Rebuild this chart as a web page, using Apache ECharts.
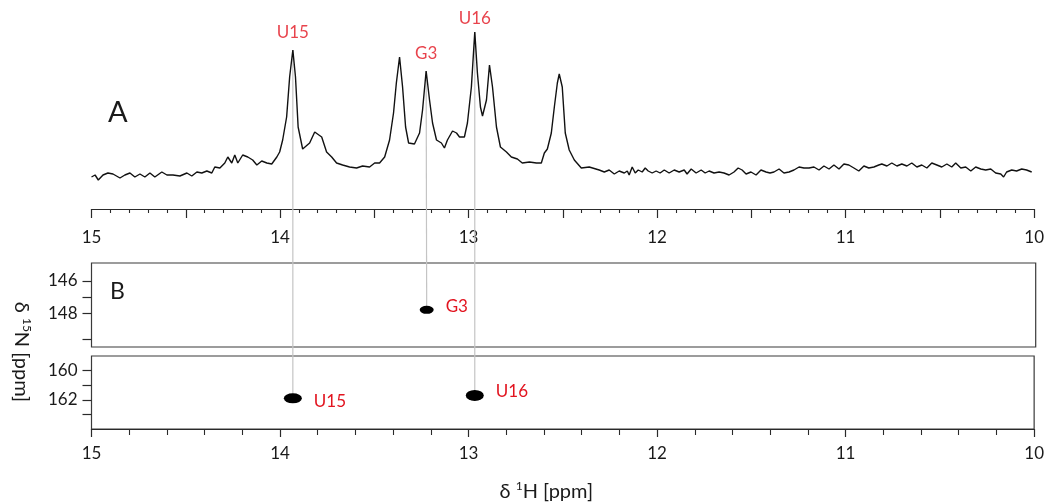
<!DOCTYPE html>
<html>
<head>
<meta charset="utf-8">
<script src="https://cdn.jsdelivr.net/npm/echarts@6/dist/echarts.min.js"></script>
<style>
  html, body { margin: 0; padding: 0; background: #fff; }
  #chart { width: 1047px; height: 503px; }
</style>
</head>
<body>
<div id="chart"></div>
<script>
// 1D imino proton spectrum: chemical shift (ppm) and intensity (arb. units)
const spectrumPpm = [
  15.000, 14.981, 14.964, 14.939, 14.913, 14.886, 14.849, 14.823, 14.796, 14.770,
  14.743, 14.717, 14.690, 14.664, 14.627, 14.600, 14.568, 14.531, 14.494, 14.468,
  14.441, 14.415, 14.388, 14.362, 14.346, 14.319, 14.293, 14.277, 14.256, 14.240,
  14.224, 14.198, 14.171, 14.145, 14.123, 14.097, 14.070, 14.044, 14.017, 14.002,
  13.986, 13.965, 13.949, 13.932, 13.918, 13.904, 13.880, 13.843, 13.816, 13.806,
  13.779, 13.753, 13.726, 13.700, 13.668, 13.631, 13.594, 13.562, 13.525, 13.498,
  13.472, 13.445, 13.419, 13.398, 13.383, 13.366, 13.350, 13.334, 13.318, 13.287,
  13.260, 13.244, 13.225, 13.207, 13.191, 13.170, 13.144, 13.128, 13.112, 13.085,
  13.064, 13.048, 13.022, 13.006, 12.985, 12.967, 12.953, 12.937, 12.926, 12.905,
  12.889, 12.873, 12.852, 12.831, 12.799, 12.773, 12.741, 12.715, 12.677, 12.640,
  12.614, 12.598, 12.582, 12.561, 12.545, 12.529, 12.519, 12.503, 12.487, 12.466,
  12.439, 12.402, 12.360, 12.307, 12.280, 12.254, 12.227, 12.201, 12.174, 12.158,
  12.148, 12.132, 12.116, 12.100, 12.079, 12.063, 12.047, 12.026, 12.005, 11.984,
  11.962, 11.936, 11.909, 11.883, 11.856, 11.841, 11.819, 11.793, 11.766, 11.745,
  11.724, 11.698, 11.671, 11.645, 11.618, 11.592, 11.570, 11.549, 11.528, 11.502,
  11.475, 11.449, 11.422, 11.401, 11.380, 11.353, 11.327, 11.300, 11.274, 11.247,
  11.221, 11.194, 11.168, 11.141, 11.115, 11.088, 11.062, 11.035, 11.009, 10.983,
  10.956, 10.930, 10.903, 10.877, 10.850, 10.824, 10.808, 10.781, 10.755, 10.728,
  10.702, 10.675, 10.649, 10.622, 10.596, 10.569, 10.543, 10.516, 10.490, 10.463,
  10.437, 10.416, 10.389, 10.363, 10.336, 10.310, 10.283, 10.257, 10.230, 10.204,
  10.177, 10.162, 10.146, 10.119, 10.093, 10.066, 10.040, 10.013
];
const spectrumIntensity = [
   8, 10,  5, 10, 12, 11,  7, 10, 12,  8,
  11,  8, 12,  8, 13, 10, 10,  9, 12,  9,
  13, 12, 14, 12, 18, 17, 22, 28, 22, 30,
  22, 30, 28, 25, 20, 24, 22, 21, 28, 33,
  45, 68,108,135,108, 58, 36, 42, 53, 52,
  48, 33, 28, 22, 20, 18, 17, 19, 18, 22,
  22, 28, 45, 72,102,128, 98, 58, 42, 41,
  52, 75,114, 85, 62, 45, 42, 37, 45, 54,
  52, 48, 48, 62, 98,153,112, 78, 69, 85,
 120, 98, 58, 38, 33, 28, 26, 22, 23, 22,
  22, 32, 36, 52, 78,102,111, 98, 52, 35,
  25, 17, 18, 15, 13, 15, 11, 14, 12, 14,
  10, 18, 12, 15, 13, 17, 14, 12, 14, 12,
  15, 12, 15, 13, 15, 11, 16, 12, 15, 12,
  14, 12, 13, 12, 10, 13, 17, 15, 11, 13,
  10, 15, 13, 12, 13, 16, 12, 13, 15, 18,
  17, 17, 18, 15, 19, 16, 20, 16, 21, 20,
  17, 14, 19, 17, 18, 20, 21, 19, 22, 19,
  21, 19, 22, 18, 20, 17, 22, 20, 18, 21,
  18, 22, 17, 18, 14, 18, 16, 15, 16, 12,
  11,  8, 13, 15, 14, 16, 15, 13
];

// Assigned imino resonances: 1H shift, peak height in the 1D trace, 15N shift
const assignNames = ['U15', 'G3', 'U16'];
const assignH = [13.932, 13.225, 12.967];
const assignIntensity = [135, 114, 153];
const assignN = [161.9, 147.8, 161.7];

// Axis ticks and labels
const hLabels = [15, 14, 13, 12, 11, 10];
const nLabelsG = [146, 148];
const nTicksG = [146, 147, 148, 149.6];
const nLabelsU = [160, 162];
const nTicksU = [160, 161, 162, 163];

const FONT = 'Lato, "Open Sans", sans-serif';
const RED = '#e2141f';
const INK = '#1a1a1a';

// Axis titles with superscript isotope numbers
const nameRich = {
  n: { fontSize: 20, fontFamily: FONT, color: INK, lineHeight: 22, verticalAlign: 'bottom' },
  s: { fontSize: 12, fontFamily: FONT, color: INK, lineHeight: 22, verticalAlign: 'top' }
};

const spectrumData = spectrumPpm.map((p, i) => [p, spectrumIntensity[i]]);
const peakLabelDistance = { U15: 9, G3: 9, U16: 5 };
const peakLabelData = assignNames.map((n, i) => ({
  name: n,
  value: [assignH[i], assignIntensity[i]],
  label: { distance: peakLabelDistance[n] }
}));

const sizes = { U15: [18, 10], G3: [14, 8], U16: [18, 11] };
const labelOffsets = { U15: [0, 3], G3: [0, -3], U16: [0, -4] };
function crossData(inGuanine) {
  const out = [];
  assignNames.forEach((n, i) => {
    const isG = assignN[i] < 155;
    if (isG === inGuanine) {
      out.push({
        name: n,
        value: [assignH[i], assignN[i]],
        symbolSize: sizes[n],
        label: { offset: labelOffsets[n] }
      });
    }
  });
  return out;
}

const hAxisBase = {
  type: 'value', min: 10, max: 15, inverse: true,
  splitLine: { show: false },
  axisLine: { show: true, onZero: false, lineStyle: { color: '#2a2a2a', width: 1.2 } }
};

const chart = echarts.init(document.getElementById('chart'), null, { renderer: 'canvas' });

const option = {
  animation: false,
  backgroundColor: '#ffffff',
  textStyle: { fontFamily: FONT },
  grid: [
    { left: 91.5, right: 11.3, top: 20, height: 189 },
    { left: 91.5, right: 11.3, top: 263, height: 84, show: true, borderColor: '#3a3a3a', borderWidth: 1.2, backgroundColor: 'transparent' },
    { left: 91.5, right: 11.3, top: 356, height: 81, show: true, borderColor: '#3a3a3a', borderWidth: 1.2, backgroundColor: 'transparent' }
  ],
  xAxis: [
    Object.assign({}, hAxisBase, {
      gridIndex: 0, interval: 0.5, position: 'bottom',
      axisTick: { show: true, length: 9, lineStyle: { color: '#2a2a2a', width: 1.2 } },
      minorTick: { show: true, splitNumber: 5, length: 4, lineStyle: { color: '#2a2a2a', width: 1.1 } },
      axisLabel: { customValues: hLabels, margin: 20, fontSize: 17, color: INK, fontFamily: FONT }
    }),
    Object.assign({}, hAxisBase, { gridIndex: 1, show: false }),
    Object.assign({}, hAxisBase, {
      gridIndex: 2, interval: 1,
      axisTick: { show: true, length: 8, lineStyle: { color: '#2a2a2a', width: 1.2 } },
      minorTick: { show: true, splitNumber: 5, length: 6, lineStyle: { color: '#2a2a2a', width: 1.1 } },
      axisLabel: { customValues: hLabels, margin: 16, fontSize: 17, color: INK, fontFamily: FONT },
      name: '{n|δ }{s|1}{n|H [ppm]}', nameLocation: 'middle', nameGap: 51,
      nameTextStyle: { fontSize: 20, color: INK, fontFamily: FONT, padding: [0, 33, 0, 0], rich: nameRich }
    })
  ],
  yAxis: [
    { gridIndex: 0, type: 'value', min: -24, max: 165, show: false },
    {
      gridIndex: 1, type: 'value', min: 144.9, max: 150.1, inverse: true,
      splitLine: { show: false }, axisLine: { show: false },
      axisTick: { show: true, length: 9, customValues: nTicksG, lineStyle: { color: '#2a2a2a', width: 1.2 } },
      axisLabel: { customValues: nLabelsG, margin: 14, fontSize: 17, color: INK, fontFamily: FONT }
    },
    {
      gridIndex: 2, type: 'value', min: 159, max: 164, inverse: true,
      splitLine: { show: false }, axisLine: { show: false },
      axisTick: { show: true, length: 9, customValues: nTicksU, lineStyle: { color: '#2a2a2a', width: 1.2 } },
      axisLabel: { customValues: nLabelsU, margin: 14, fontSize: 17, color: INK, fontFamily: FONT }
    }
  ],
  series: [
    {
      type: 'line', xAxisIndex: 0, yAxisIndex: 0, z: 3,
      data: spectrumData, showSymbol: false, symbol: 'none',
      lineStyle: { color: '#111111', width: 1.4 }
    },
    {
      type: 'scatter', xAxisIndex: 0, yAxisIndex: 0, z: 4,
      data: peakLabelData, symbolSize: 0, silent: true,
      label: { show: true, position: 'top', formatter: '{b}', color: RED, fontSize: 17, fontFamily: FONT }
    },
    {
      type: 'scatter', xAxisIndex: 1, yAxisIndex: 1, z: 4,
      data: crossData(true), symbol: 'circle',
      itemStyle: { color: '#000000', opacity: 1 },
      label: { show: true, position: 'right', distance: 12, formatter: '{b}', color: RED, fontSize: 17, fontFamily: FONT }
    },
    {
      type: 'scatter', xAxisIndex: 2, yAxisIndex: 2, z: 4,
      data: crossData(false), symbol: 'circle',
      itemStyle: { color: '#000000', opacity: 1 },
      label: { show: true, position: 'right', distance: 12, formatter: '{b}', color: RED, fontSize: 17, fontFamily: FONT }
    }
  ],
  graphic: [
    { id: 'panelA', type: 'text', left: 108, top: 98, style: { text: 'A', font: '29px ' + FONT, fill: INK } },
    { id: 'panelB', type: 'text', left: 110, top: 280, style: { text: 'B', font: '23px ' + FONT, fill: INK } },
    {
      id: 'nName', type: 'text', x: 22, y: 352, rotation: -Math.PI / 2,
      style: {
        text: '{n|δ }{s|15}{n|N [ppm]}', rich: nameRich,
        font: '20px ' + FONT, fill: INK, align: 'center', verticalAlign: 'middle'
      }
    }
  ]
};

chart.setOption(option);

// Guide lines from each 1D peak down to its cross peak, placed through the axis scales
const guides = assignNames.map((n, i) => {
  const top = chart.convertToPixel({ gridIndex: 0 }, [assignH[i], assignIntensity[i]]);
  const bottom = chart.convertToPixel({ gridIndex: assignN[i] < 155 ? 1 : 2 }, [assignH[i], assignN[i]]);
  return {
    id: 'guide' + n, type: 'line', silent: true, z: 1,
    shape: { x1: top[0], y1: top[1], x2: bottom[0], y2: bottom[1] },
    style: { stroke: '#c4c4c4', lineWidth: 1.2 }
  };
});
chart.setOption({ graphic: guides });
</script>
</body>
</html>
